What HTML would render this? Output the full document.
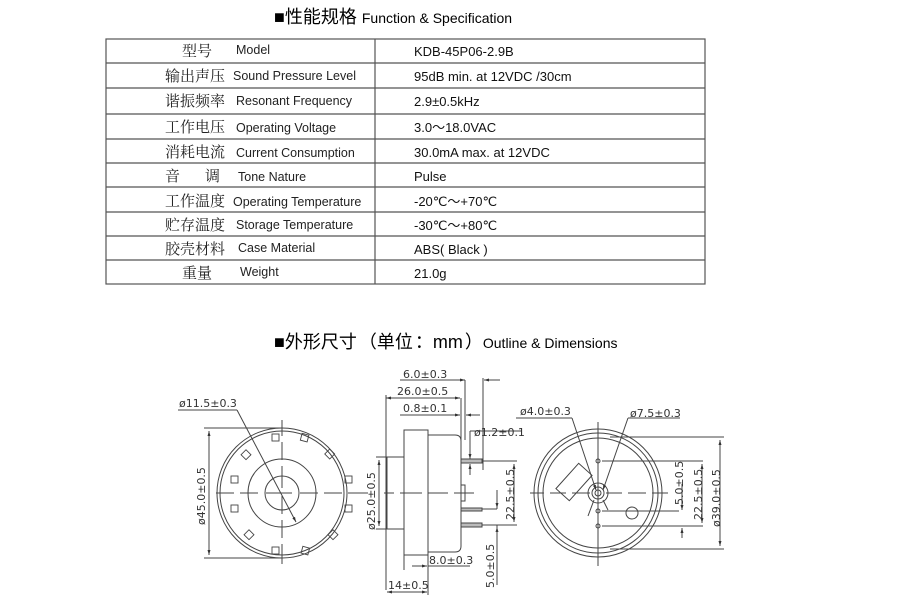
<!DOCTYPE html>
<html><head><meta charset="utf-8"><style>
body{margin:0;background:#fff;width:900px;height:605px;overflow:hidden}
svg{display:block}
.cn{font-family:"Noto Serif CJK SC","Liberation Serif",serif;font-size:15px;fill:#222}
.en{font-family:"Liberation Sans",sans-serif;font-size:12.5px;fill:#222}
.v{font-family:"Liberation Sans",sans-serif;font-size:13px;fill:#111}
.d{font-family:"DejaVu Sans","Liberation Sans",sans-serif;font-size:11px;fill:#333}
.t{font-family:"Liberation Sans","Noto Sans CJK SC",sans-serif;fill:#000}
</style></head><body>
<svg width="900" height="605" viewBox="0 0 900 605" xmlns="http://www.w3.org/2000/svg">
<defs><marker id="a" viewBox="0 0 10 10" refX="10" refY="5" markerWidth="7" markerHeight="5" orient="auto-start-reverse"><path d="M0,2 L10,5 L0,8z" fill="#333"/></marker></defs>
<!-- titles -->
<text x="274" y="23" class="t" style="font-size:18px">■性能规格 <tspan style="font-size:14px">Function &amp; Specification</tspan></text>
<text x="274" y="348" class="t" style="font-size:18px">■外形尺寸<tspan dx="2">（</tspan>单位<tspan dx="2">：</tspan>mm<tspan dx="2">）</tspan><tspan style="font-size:14px">Outline &amp; Dimensions</tspan></text>
<!-- table -->
<g stroke="#555" stroke-width="1.2" fill="none">
<rect x="106" y="39" width="599" height="245"/>
<line x1="375" y1="39" x2="375" y2="284"/>
<path d="M106 63H705M106 88H705M106 114H705M106 139H705M106 163H705M106 187H705M106 212H705M106 236H705M106 260H705"/>
</g>
<g>
<text x="182" y="56" class="cn">型号</text><text x="236" y="54" class="en">Model</text>
<text x="165" y="81" class="cn">输出声压</text><text x="233" y="80" class="en">Sound Pressure Level</text>
<text x="165" y="106" class="cn">谐振频率</text><text x="236" y="105" class="en">Resonant Frequency</text>
<text x="165" y="132" class="cn">工作电压</text><text x="236" y="132" class="en">Operating Voltage</text>
<text x="165" y="157" class="cn">消耗电流</text><text x="236" y="157" class="en">Current Consumption</text>
<text x="165" y="181" class="cn">音</text><text x="205" y="181" class="cn">调</text><text x="238" y="181" class="en">Tone Nature</text>
<text x="165" y="206" class="cn">工作温度</text><text x="233" y="206" class="en">Operating Temperature</text>
<text x="165" y="230" class="cn">贮存温度</text><text x="236" y="229" class="en">Storage Temperature</text>
<text x="165" y="254" class="cn">胶壳材料</text><text x="238" y="252" class="en">Case Material</text>
<text x="182" y="278" class="cn">重量</text><text x="240" y="276" class="en">Weight</text>
<text x="414" y="56" class="v">KDB-45P06-2.9B</text>
<text x="414" y="81" class="v">95dB min. at 12VDC /30cm</text>
<text x="414" y="106" class="v">2.9±0.5kHz</text>
<text x="414" y="132" class="v">3.0～18.0VAC</text>
<text x="414" y="157" class="v">30.0mA max. at 12VDC</text>
<text x="414" y="181" class="v">Pulse</text>
<text x="414" y="206" class="v">-20℃～+70℃</text>
<text x="414" y="230" class="v">-30℃～+80℃</text>
<text x="414" y="254" class="v">ABS( Black )</text>
<text x="414" y="278" class="v">21.0g</text>
</g>
<!-- left view -->
<g stroke="#444" stroke-width="1" fill="none">
<g transform="translate(10,0)">
<circle cx="272" cy="493" r="65"/><circle cx="272" cy="493" r="62"/>
<circle cx="272" cy="493" r="34"/><circle cx="272" cy="493" r="17"/>
<path d="M206 493h18M230 493h18M256 493h26M290 493h18M314 493h18M338 493h20" />
<path d="M272 420v16M272 442v18M272 466v22M272 496v18M272 520v18M272 544v20"/>
<g stroke-width="0.9">
<rect x="262" y="434" width="7" height="7"/><rect x="291" y="434" width="7" height="7" transform="rotate(15 294 438)"/>
<rect x="233" y="451" width="7" height="7" transform="rotate(45 236 454)"/><rect x="316" y="450" width="7" height="7" transform="rotate(45 319 454)"/>
<rect x="221" y="476" width="7" height="7"/><rect x="335" y="476" width="7" height="7"/>
<rect x="221" y="505" width="7" height="7"/><rect x="335" y="505" width="7" height="7"/>
<rect x="236" y="531" width="7" height="7" transform="rotate(45 239 534)"/><rect x="320" y="531" width="7" height="7" transform="rotate(45 323 534)"/>
<rect x="262" y="547" width="7" height="7"/><rect x="292" y="547" width="7" height="7" transform="rotate(15 295 550)"/>
</g>
</g>
<path d="M178 410H237" /><path d="M237 410L296 522" marker-end="url(#a)"/>
<path d="M204 428H282M204 558H282"/>
<path d="M209 431V555" marker-start="url(#a)" marker-end="url(#a)"/>
</g>
<text x="179" y="407" class="d">ø11.5±0.3</text>
<text x="205" y="525" class="d" transform="rotate(-90 205 525)">ø45.0±0.5</text>
<!-- side view -->
<g stroke="#444" stroke-width="1" fill="none">
<rect x="387" y="457" width="17" height="72"/>
<rect x="404" y="430" width="24" height="125"/>
<path d="M428 435H455Q461 435 461 441V546Q461 552 455 552H428"/>
<rect x="461" y="485" width="4" height="16"/>
<rect x="461" y="459" width="21" height="4" fill="#bbb"/>
<rect x="461" y="508" width="21" height="3" fill="#bbb"/>
<rect x="461" y="523" width="21" height="4" fill="#bbb"/>
<path d="M384 493h10M400 493h22M428 493h20M454 493h20"/>
<path d="M386 395V590M461 398V440M465 380V440M483 378V470"/>
<path d="M400 380H465" /><path d="M462 380H465" marker-end="url(#a)"/><path d="M500 380H484" marker-end="url(#a)"/>
<path d="M386 398H460" marker-start="url(#a)" marker-end="url(#a)"/>
<path d="M400 415H460" marker-end="url(#a)"/><path d="M480 415H466" marker-end="url(#a)"/>
<path d="M470 431H522M470 431V455"/><path d="M470 450V459" marker-end="url(#a)"/><path d="M470 475V464" marker-end="url(#a)"/>
<path d="M376 457H387M376 529H387"/><path d="M379 460V526" marker-start="url(#a)" marker-end="url(#a)"/>
<path d="M482 461H517M482 525H517"/><path d="M514 464V522" marker-start="url(#a)" marker-end="url(#a)"/>
<path d="M482 509H497M497 509V490"/><path d="M497 495V508" marker-end="url(#a)"/><path d="M497 540V527" marker-end="url(#a)"/><path d="M497 525V585"/>
<path d="M404 555V570M428 555V595"/><path d="M412 566H427" marker-end="url(#a)"/><path d="M428 566H470"/>
<path d="M387 592H427" marker-start="url(#a)" marker-end="url(#a)"/>
</g>
<text x="403" y="378" class="d">6.0±0.3</text>
<text x="397" y="395" class="d">26.0±0.5</text>
<text x="403" y="412" class="d">0.8±0.1</text>
<text x="474" y="436" class="d">ø1.2±0.1</text>
<text x="429" y="564" class="d">8.0±0.3</text>
<text x="388" y="589" class="d">14±0.5</text>
<text x="375" y="530" class="d" transform="rotate(-90 375 530)">ø25.0±0.5</text>
<text x="514" y="520" class="d" transform="rotate(-90 514 520)">22.5±0.5</text>
<text x="494" y="588" class="d" transform="rotate(-90 494 588)">5.0±0.5</text>
<!-- right view -->
<g stroke="#444" stroke-width="1" fill="none">
<circle cx="598" cy="493" r="64"/><circle cx="598" cy="493" r="60"/><circle cx="598" cy="493" r="55"/>
<circle cx="598" cy="493" r="10"/><circle cx="598" cy="493" r="6"/><circle cx="598" cy="493" r="3"/>
<circle cx="632" cy="513" r="6"/>
<rect x="565" y="465" width="18" height="34" transform="rotate(42 574 482)"/>
<circle cx="598" cy="461" r="2"/><circle cx="598" cy="511" r="2"/><circle cx="598" cy="526" r="2"/>
<path d="M530 493h14M550 493h16M572 493h18M606 493h16M628 493h18M652 493h16"/>
<path d="M598 422V566"/>
<path d="M516 418H572" /><path d="M572 418L596 490" marker-end="url(#a)"/>
<path d="M680 418H628" /><path d="M628 418L603 490" marker-end="url(#a)"/>
<path d="M594 500L588 516M603 500L608 510"/>
<path d="M602 461H703M602 511H679M602 526H703M610 437H724M610 549H724"/>
<path d="M682 484V510" marker-end="url(#a)"/><path d="M682 538V528" marker-end="url(#a)"/>
<path d="M702 464V523" marker-start="url(#a)" marker-end="url(#a)"/>
<path d="M720 440V546" marker-start="url(#a)" marker-end="url(#a)"/>
</g>
<text x="520" y="415" class="d">ø4.0±0.3</text>
<text x="630" y="417" class="d">ø7.5±0.3</text>
<text x="683" y="505" class="d" transform="rotate(-90 683 505)">5.0±0.5</text>
<text x="702" y="520" class="d" transform="rotate(-90 702 520)">22.5±0.5</text>
<text x="720" y="527" class="d" transform="rotate(-90 720 527)">ø39.0±0.5</text>
</svg>
</body></html>
